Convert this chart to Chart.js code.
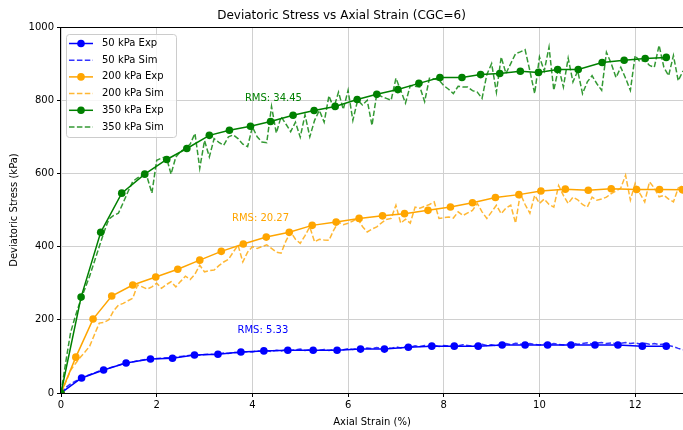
<!DOCTYPE html>
<html>
<head>
<meta charset="utf-8">
<title>Deviatoric Stress vs Axial Strain</title>
<script src="https://cdn.jsdelivr.net/npm/chart.js@4.4.1/dist/chart.umd.min.js"></script>
<style>
  html, body { margin: 0; padding: 0; background: #fff; overflow: hidden; }
  canvas { display: block; }
</style>
</head>
<body>
<canvas id="chart" width="683" height="430"></canvas>
<script>
const strain50Exp = [0, 0.43, 0.89, 1.36, 1.87, 2.33, 2.79, 3.28, 3.76, 4.24, 4.74, 5.27, 5.77, 6.26, 6.76, 7.26, 7.75, 8.22, 8.72, 9.22, 9.70, 10.17, 10.66, 11.16, 11.64, 12.15, 12.65];
const stress50Exp = [0, 41, 63, 82, 93, 95, 104, 106, 112, 115, 117, 117, 117, 120, 120, 125, 128, 128, 128, 131, 131, 131, 131, 131, 131, 128, 128];

const strain200Exp = [0, 0.31, 0.67, 1.06, 1.50, 1.98, 2.44, 2.90, 3.35, 3.81, 4.29, 4.77, 5.25, 5.75, 6.23, 6.72, 7.18, 7.67, 8.14, 8.60, 9.08, 9.57, 10.03, 10.54, 11.02, 11.50, 12.03, 12.51, 12.99];
const stress200Exp = [0, 98, 202, 265, 295, 317, 338, 363, 387, 407, 426, 439, 458, 467, 477, 484, 490, 499, 508, 520, 534, 542, 552, 557, 554, 558, 556, 556, 555];

const strain350Exp = [0, 0.42, 0.83, 1.27, 1.75, 2.21, 2.63, 3.10, 3.52, 3.96, 4.38, 4.85, 5.29, 5.73, 6.19, 6.60, 7.04, 7.48, 7.92, 8.38, 8.77, 9.17, 9.60, 9.98, 10.38, 10.81, 11.31, 11.77, 12.21, 12.65];
const stress350Exp = [0, 262, 439, 546, 598, 638, 668, 704, 718, 729, 742, 759, 772, 783, 802, 816, 829, 846, 862, 862, 870, 873, 879, 876, 884, 884, 903, 909, 914, 917];

// simulated curves share one strain axis
const strainSim = [
  0.0, 0.1, 0.2, 0.3, 0.4, 0.5, 0.6, 0.7, 0.8, 0.9,
  1.0, 1.1, 1.2, 1.3, 1.4, 1.5, 1.6, 1.7, 1.8, 1.9,
  2.0, 2.1, 2.2, 2.3, 2.4, 2.5, 2.6, 2.7, 2.8, 2.9,
  3.0, 3.1, 3.2, 3.3, 3.4, 3.5, 3.6, 3.7, 3.8, 3.9,
  4.0, 4.1, 4.2, 4.3, 4.4, 4.5, 4.6, 4.7, 4.8, 4.9,
  5.0, 5.1, 5.2, 5.3, 5.4, 5.5, 5.6, 5.7, 5.8, 5.9,
  6.0, 6.1, 6.2, 6.3, 6.4, 6.5, 6.6, 6.7, 6.8, 6.9,
  7.0, 7.1, 7.2, 7.3, 7.4, 7.5, 7.6, 7.7, 7.8, 7.9,
  8.0, 8.1, 8.2, 8.3, 8.4, 8.5, 8.6, 8.7, 8.8, 8.9,
  9.0, 9.1, 9.2, 9.3, 9.4, 9.5, 9.6, 9.7, 9.8, 9.9,
  10.0, 10.1, 10.2, 10.3, 10.4, 10.5, 10.6, 10.7, 10.8, 10.9,
  11.0, 11.1, 11.2, 11.3, 11.4, 11.5, 11.6, 11.7, 11.8, 11.9,
  12.0, 12.1, 12.2, 12.3, 12.4, 12.5, 12.6, 12.7, 12.8, 12.9,
  13.0
];
const stress50Sim = [
  0, 15, 25, 32, 38, 45, 50, 55, 60, 64,
  68, 72, 76, 80, 82, 85, 88, 90, 92, 93,
  94, 95, 96, 97, 98, 100, 101, 103, 104, 103,
  105, 106, 105, 107, 109, 108, 111, 110, 112, 113,
  112, 115, 114, 116, 113, 117, 115, 118, 116, 118,
  120, 116, 118, 114, 117, 119, 116, 119, 121, 118,
  121, 119, 122, 120, 123, 121, 124, 122, 125, 122,
  126, 123, 127, 125, 129, 127, 130, 128, 131, 127,
  130, 128, 131, 129, 132, 130, 128, 131, 133, 130,
  132, 129, 133, 135, 132, 136, 134, 132, 135, 133,
  131, 134, 132, 135, 133, 131, 134, 136, 133, 135,
  137, 134, 136, 138, 135, 137, 134, 136, 138, 135,
  137, 134, 136, 133, 135, 132, 134, 130, 127, 122,
  118
];
const stress200Sim = [
  0, 30, 62, 80, 97, 112, 128, 160, 191, 193,
  200, 225, 240, 245, 252, 259, 295, 290, 284, 290,
  300, 286, 296, 304, 290, 305, 319, 310, 325, 349,
  331, 334, 336, 348, 358, 365, 385, 404, 358, 385,
  400, 395, 400, 405, 395, 385, 382, 415, 440, 420,
  409, 430, 454, 413, 420, 418, 417, 445, 467, 460,
  464, 470, 477, 455, 440, 448, 454, 465, 474, 477,
  513, 464, 475, 464, 508, 505, 510, 515, 522, 477,
  479, 481, 478, 495, 485, 492, 499, 518, 495, 477,
  495, 513, 490, 505, 513, 464, 545, 515, 491, 540,
  518, 530, 515, 508, 567, 540, 518, 535, 528, 515,
  508, 535, 527, 530, 535, 545, 552, 560, 595, 527,
  573, 545, 522, 577, 560, 536, 540, 530, 522, 560,
  567
];
const stress350Sim = [
  0, 85, 165, 210, 250, 285, 320, 360, 400, 440,
  475, 485, 491, 520, 550, 578, 588, 595, 590, 546,
  636, 642, 645, 598, 645, 660, 668, 680, 709, 614,
  690, 645, 695, 685, 677, 700, 705, 695, 680, 673,
  727, 700, 686, 684, 783, 710, 755, 735, 714, 740,
  699, 760, 700, 745, 772, 740, 812, 778, 822, 775,
  827, 745, 800, 787, 800, 731, 818, 810, 805, 800,
  860, 827, 792, 840, 838, 836, 796, 860, 858, 855,
  840, 830, 818, 838, 836, 836, 826, 822, 805, 870,
  900, 822, 918, 873, 900, 927, 932, 938, 880, 818,
  918, 880, 945, 827, 890, 836, 915, 850, 880, 818,
  850, 867, 845, 827, 931, 900, 862, 890, 860, 827,
  922, 905, 910, 895, 890, 950, 890, 867, 922, 853,
  880
];

const xTicks = [0, 2, 4, 6, 8, 10, 12];
const yTicks = [0, 200, 400, 600, 800, 1000];

// RMS notes
const rmsLabels = ['RMS: 5.33', 'RMS: 20.27', 'RMS: 34.45'];
const rmsX = [4.22, 4.17, 4.44];
const rmsY = [172, 477, 805];
const rmsColors = ['#0000ff', '#ffa500', '#008000'];

const FONT = "'DejaVu Sans', sans-serif";
Chart.defaults.font.family = FONT;
Chart.defaults.color = '#000';

function xy(xs, ys) {
    return xs.map((x, i) => ({ x: x, y: ys[i] }));
}

function expSet(label, xs, ys, color, order) {
    return {
        label: label,
        data: xy(xs, ys),
        borderColor: color,
        backgroundColor: color,
        borderWidth: 1.5,
        pointRadius: 3.8,
        pointBorderWidth: 0,
        pointBackgroundColor: color,
        tension: 0,
        order: order
    };
}

function simSet(label, xs, ys, color, order) {
    return {
        label: label,
        data: xy(xs, ys),
        borderColor: color,
        backgroundColor: color,
        borderWidth: 1.5,
        borderDash: [5.5, 2.4],
        pointRadius: 0,
        tension: 0,
        order: order
    };
}

// matplotlib-style legend box in the upper left corner
const mplLegend = {
    id: 'mplLegend',
    afterDraw(chart) {
        const ctx = chart.ctx;
        const x0 = chart.chartArea.left + 5;
        const y0 = chart.chartArea.top + 7;
        ctx.save();
        ctx.fillStyle = 'rgba(255,255,255,0.8)';
        ctx.strokeStyle = '#cccccc';
        ctx.lineWidth = 1;
        ctx.beginPath();
        ctx.roundRect(x0 + 0.5, y0 + 0.5, 110, 103, 3);
        ctx.fill();
        ctx.stroke();
        chart.data.datasets.forEach((ds, i) => {
            const cy = y0 + 9.5 + i * 16.7;
            ctx.strokeStyle = ds.borderColor;
            ctx.lineWidth = ds.borderWidth;
            ctx.setLineDash(ds.borderDash || []);
            ctx.beginPath();
            ctx.moveTo(x0 + 3, cy);
            ctx.lineTo(x0 + 27, cy);
            ctx.stroke();
            ctx.setLineDash([]);
            if (ds.pointRadius > 0) {
                ctx.fillStyle = ds.pointBackgroundColor;
                ctx.beginPath();
                ctx.arc(x0 + 15, cy, ds.pointRadius, 0, Math.PI * 2);
                ctx.fill();
            }
            ctx.fillStyle = '#000';
            ctx.font = '10px ' + FONT;
            ctx.textAlign = 'left';
            ctx.textBaseline = 'middle';
            ctx.fillText(ds.label, x0 + 36, cy);
        });
        ctx.restore();
    }
};

// RMS notes + frame around the axes
const extras = {
    id: 'extras',
    afterDatasetsDraw(chart) {
        const ctx = chart.ctx;
        const xs = chart.scales.x, ys = chart.scales.y;
        const a = chart.chartArea;
        ctx.save();
        ctx.font = '10px ' + FONT;
        ctx.textAlign = 'center';
        ctx.textBaseline = 'middle';
        rmsLabels.forEach((t, i) => {
            ctx.fillStyle = rmsColors[i];
            ctx.fillText(t, xs.getPixelForValue(rmsX[i]), ys.getPixelForValue(rmsY[i]));
        });
        ctx.strokeStyle = '#000';
        ctx.lineWidth = 1;
        ctx.strokeRect(Math.round(a.left) - 0.5, Math.round(a.top) + 0.5,
            Math.round(a.right - a.left) + 1, Math.round(a.bottom - a.top));
        ctx.restore();
    }
};

const chart = new Chart(document.getElementById('chart'), {
    type: 'line',
    data: {
        datasets: [
            expSet('50 kPa Exp', strain50Exp, stress50Exp, '#0000ff', 6),
            simSet('50 kPa Sim', strainSim, stress50Sim, 'rgba(0,0,255,0.8)', 5),
            expSet('200 kPa Exp', strain200Exp, stress200Exp, '#ffa500', 4),
            simSet('200 kPa Sim', strainSim, stress200Sim, 'rgba(255,165,0,0.8)', 3),
            expSet('350 kPa Exp', strain350Exp, stress350Exp, '#008000', 2),
            simSet('350 kPa Sim', strainSim, stress350Sim, 'rgba(0,128,0,0.8)', 1)
        ]
    },
    options: {
        responsive: false,
        devicePixelRatio: 1,
        animation: false,
        layout: { padding: 0, autoPadding: false },
        plugins: {
            legend: { display: false },
            tooltip: { enabled: false },
            title: {
                display: true,
                text: 'Deviatoric Stress vs Axial Strain (CGC=6)',
                color: '#000',
                font: { size: 12, weight: 'normal', family: FONT },
                padding: { top: 8.8, bottom: 3.8 }
            }
        },
        scales: {
            x: {
                type: 'linear',
                min: 0,
                max: 13,
                afterBuildTicks: (s) => { s.ticks = xTicks.map(v => ({ value: v })); },
                afterFit: (s) => { s.height = 37; s.paddingLeft = 0; s.paddingRight = 0; },
                grid: { color: '#d0d0d0', lineWidth: 1, tickColor: '#000', tickLength: 4 },
                border: { display: false },
                ticks: { font: { size: 10 }, padding: 2, maxRotation: 0, callback: (v) => String(v) },
                title: {
                    display: true,
                    text: 'Axial Strain (%)',
                    font: { size: 10 },
                    padding: { top: 0, bottom: 2 }
                }
            },
            y: {
                min: 0,
                max: 1000,
                afterBuildTicks: (s) => { s.ticks = yTicks.map(v => ({ value: v })); },
                afterFit: (s) => { s.width = 61; s.paddingTop = 0; s.paddingBottom = 0; },
                grid: { color: '#d0d0d0', lineWidth: 1, tickColor: '#000', tickLength: 4 },
                border: { display: false },
                ticks: { font: { size: 10 }, padding: 3, callback: (v) => String(v) },
                title: {
                    display: true,
                    text: 'Deviatoric Stress (kPa)',
                    font: { size: 10 },
                    padding: { top: 8, bottom: 0 }
                }
            }
        }
    },
    plugins: [mplLegend, extras]
});
</script>
</body>
</html>
